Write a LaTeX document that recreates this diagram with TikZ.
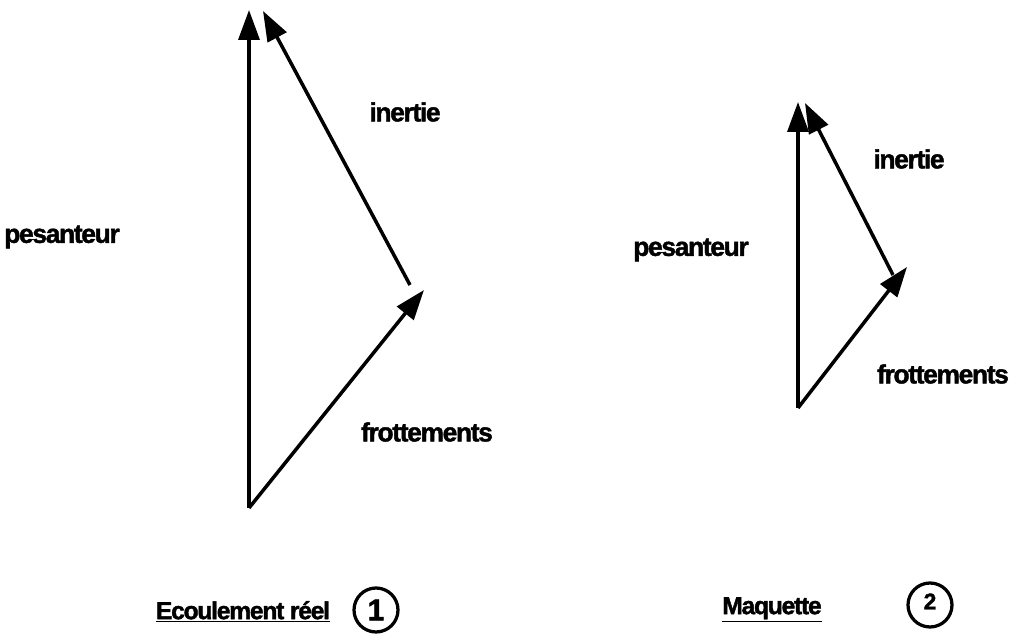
\documentclass[tikz,border=0pt]{standalone}
\usepackage{fontspec}
\setmainfont{Liberation Sans}[LetterSpace=-5, BoldFeatures={FakeBold=1.6}]
\usepackage{tikz}
\usetikzlibrary{positioning, arrows.meta}

\begin{document}
\begin{tikzpicture}[
    x=0.02cm, y=-0.02cm,
    vec/.style={
	line width=0.07cm,
	-{Triangle[length=0.6cm, width=0.42cm]}
    },
    lbl/.style={
	font=\fontsize{15}{17}\selectfont\bfseries
    },
    title/.style={
	font=\fontsize{14}{16}\selectfont\bfseries
    },
    num/.style={
	circle,
	draw,
	line width=0.065cm,
	minimum size=0.88cm,
	inner sep=0pt,
	font=\fontsize{17}{19}\selectfont\bfseries
    }
]
	\useasboundingbox (0,0) rectangle (1011,641);

	% Ecoulement reel
	\coordinate (o1) at (249,508);
	\coordinate (p1) at (249,10);
	\coordinate (f1) at (424,290);
	\coordinate (s1) at (410,285);
	\coordinate (i1) at (263,11);

	\draw[vec] (o1) -- (p1);
	\draw[vec] (o1) -- (f1);
	\draw[vec] (s1) -- (i1);

	\node[lbl] (ine1) at (405,112) {inertie};
	\node[lbl] (pes1) at (62,237) {pesanteur};
	\node[lbl] (fro1) at (427,432) {frottements};
	\node[title] (tit1) at (243,612) {\underline{Ecoulement réel}};
	\node[num] (c1) at (376,610) {1};

	% Maquette
	\coordinate (o2) at (798,408);
	\coordinate (p2) at (798,102);
	\coordinate (f2) at (907,267);
	\coordinate (s2) at (893,275);
	\coordinate (i2) at (805,103);

	\draw[vec] (o2) -- (p2);
	\draw[vec] (o2) -- (f2);
	\draw[vec] (s2) -- (i2);

	\node[lbl] (ine2) at (909,159) {inertie};
	\node[lbl] (pes2) at (691,250) {pesanteur};
	\node[lbl] (fro2) at (943,374) {frottements};
	\node[title] (tit2) at (772,610) {\underline{Maquette}};
	\node[num] (c2) at (930,605) {\raisebox{4pt}{\fontsize{13}{15}\selectfont 2}};
\end{tikzpicture}
\end{document}
